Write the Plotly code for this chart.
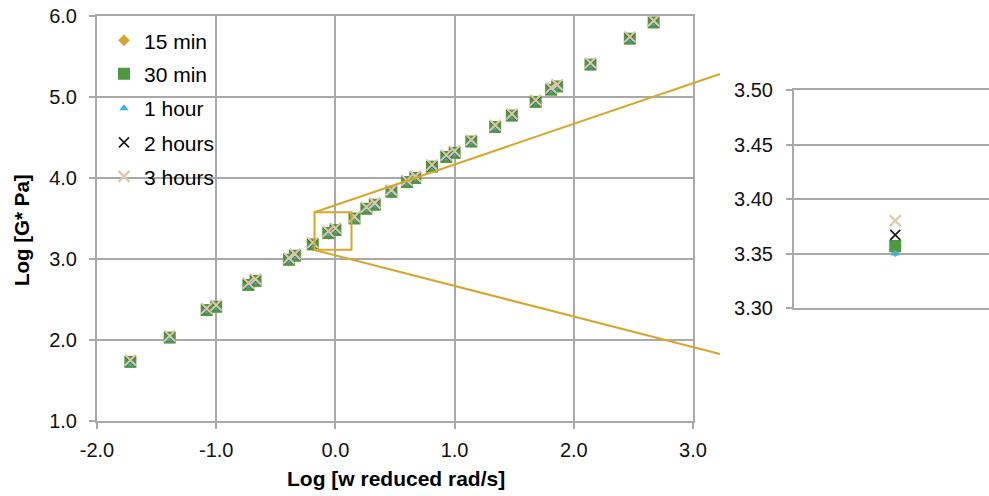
import plotly.graph_objects as go

# ---------------- data ----------------
x_vals = [-1.72, -1.39, -1.08, -1.00, -0.73, -0.67, -0.39, -0.34, -0.19, -0.06, 0.00,
          0.16, 0.26, 0.33, 0.47, 0.60, 0.67, 0.81, 0.93, 1.00, 1.14, 1.34, 1.48,
          1.68, 1.81, 1.86, 2.14, 2.47, 2.67]

g_15min = [1.72, 2.03, 2.36, 2.41, 2.68, 2.72, 2.98, 3.04, 3.17, 3.31, 3.352,
           3.50, 3.62, 3.67, 3.82, 3.95, 4.00, 4.14, 4.25, 4.31, 4.45, 4.63, 4.77,
           4.94, 5.09, 5.13, 5.40, 5.72, 5.92]
g_30min = [1.73, 2.03, 2.37, 2.41, 2.68, 2.73, 2.99, 3.04, 3.18, 3.32, 3.357,
           3.50, 3.62, 3.67, 3.83, 3.95, 4.00, 4.14, 4.26, 4.31, 4.45, 4.63, 4.77,
           4.94, 5.09, 5.13, 5.40, 5.72, 5.92]
g_1hour = [1.71, 2.02, 2.36, 2.40, 2.67, 2.72, 2.98, 3.03, 3.17, 3.31, 3.350,
           3.49, 3.61, 3.66, 3.82, 3.94, 3.99, 4.13, 4.25, 4.30, 4.44, 4.62, 4.76,
           4.93, 5.08, 5.12, 5.39, 5.71, 5.91]
g_2hours = [1.74, 2.04, 2.38, 2.42, 2.69, 2.74, 3.00, 3.05, 3.19, 3.33, 3.367,
            3.51, 3.63, 3.68, 3.84, 3.96, 4.01, 4.15, 4.27, 4.32, 4.46, 4.64, 4.78,
            4.95, 5.10, 5.14, 5.41, 5.73, 5.93]
g_3hours = [1.75, 2.05, 2.39, 2.43, 2.70, 2.75, 3.01, 3.06, 3.20, 3.34, 3.380,
            3.52, 3.64, 3.69, 3.85, 3.97, 4.02, 4.16, 4.28, 4.33, 4.47, 4.65, 4.79,
            4.96, 5.11, 5.15, 5.42, 5.74, 5.94]

series_names = ["15 min", "30 min", "1 hour", "2 hours", "3 hours"]

main_x_ticks = [-2, -1, 0, 1, 2, 3]
main_x_labels = ["-2.0", "-1.0", "0.0", "1.0", "2.0", "3.0"]
main_y_ticks = [1, 2, 3, 4, 5, 6]
main_y_labels = ["1.0", "2.0", "3.0", "4.0", "5.0", "6.0"]
inset_y_ticks = [3.30, 3.35, 3.40, 3.45, 3.50]
inset_y_labels = ["3.30", "3.35", "3.40", "3.45", "3.50"]

# zoom box in data units of the main chart
zoom_x = [-0.175, 0.135]
zoom_y = [3.115, 3.577]

# ---------------- layout helpers ----------------
W, H = 989, 496
def px(x):
    return x / W
def py(y):
    return 1 - y / H

FONT = "Liberation Sans, Arial, Helvetica, sans-serif"
GRID = "#A9A9A9"
GOLD = "#D9A62B"

styles = [
    dict(symbol="diamond", size=9, color="#D6A431"),
    dict(symbol="square", size=12, color="#4E983F"),
    dict(symbol="triangle-up", size=8, color="#2DB6EA"),
    dict(symbol="x-thin", size=10, color="rgba(0,0,0,0)", line=dict(color="#1A1A1A", width=1.7)),
    dict(symbol="x-thin", size=11, color="rgba(0,0,0,0)", line=dict(color="#DCC7A8", width=2.2)),
]
series_vals = [g_15min, g_30min, g_1hour, g_2hours, g_3hours]

fig = go.Figure()
legend_ids = ["legend", "legend2", "legend3", "legend4", "legend5"]
for i, (name, vals, st) in enumerate(zip(series_names, series_vals, styles)):
    fig.add_trace(go.Scatter(x=x_vals, y=vals, mode="markers", name=name,
                             marker=st, legend=legend_ids[i],
                             xaxis="x", yaxis="y"))
for i, (name, vals, st) in enumerate(zip(series_names, series_vals, styles)):
    fig.add_trace(go.Scatter(x=x_vals, y=vals, mode="markers", name=name,
                             marker=st, showlegend=False,
                             xaxis="x2", yaxis="y2"))

legend_centers = [40.7, 74, 108.5, 142.7, 176.7]
legend_layout = {}
for lid, cy in zip(legend_ids, legend_centers):
    legend_layout[lid] = dict(x=px(104), y=py(cy), xanchor="left", yanchor="middle",
                              bgcolor="rgba(0,0,0,0)", borderwidth=0,
                              font=dict(family=FONT, size=21, color="#000"))

tickfont = dict(family=FONT, size=20, color="#111")

fig.update_layout(
    width=W, height=H,
    margin=dict(l=0, r=0, t=0, b=0, pad=0, autoexpand=False),
    paper_bgcolor="white", plot_bgcolor="white",
    font=dict(family=FONT),
    xaxis=dict(domain=[px(97), px(693)], range=[-2, 3], tickmode="array",
               tickvals=main_x_ticks, ticktext=main_x_labels, showgrid=True,
               gridcolor=GRID, gridwidth=2, showline=True, linecolor=GRID,
               linewidth=2, mirror=True, ticks="outside", ticklen=6,
               tickcolor=GRID, tickwidth=2, tickfont=tickfont, zeroline=False,
               anchor="y", ticklabelstandoff=4, automargin=False),
    yaxis=dict(domain=[py(421), py(16)], range=[1, 6], tickmode="array",
               tickvals=main_y_ticks, ticktext=main_y_labels, showgrid=True,
               gridcolor=GRID, gridwidth=2, showline=True, linecolor=GRID,
               linewidth=2, mirror=True, ticks="outside", ticklen=6,
               tickcolor=GRID, tickwidth=2, tickfont=tickfont, zeroline=False,
               anchor="x", ticklabelstandoff=8, automargin=False),
    xaxis2=dict(domain=[px(794), 1.0], range=[-0.027, 0.025], showgrid=False,
                showticklabels=False, showline=True, linecolor=GRID, linewidth=2,
                mirror=True, ticks="", zeroline=False, anchor="y2", automargin=False),
    yaxis2=dict(domain=[py(308), py(90)], range=[3.30, 3.50], tickmode="array",
                tickvals=inset_y_ticks, ticktext=inset_y_labels, showgrid=True,
                gridcolor=GRID, gridwidth=2, showline=True, linecolor=GRID,
                linewidth=2, ticks="outside", ticklen=6, tickcolor=GRID,
                tickwidth=2, tickfont=tickfont, zeroline=False, anchor="x2",
                ticklabelstandoff=9, automargin=False),
    shapes=[
        dict(type="rect", xref="x", yref="y", x0=zoom_x[0], x1=zoom_x[1],
             y0=zoom_y[0], y1=zoom_y[1], line=dict(color=GOLD, width=2)),
        dict(type="line", xref="paper", yref="paper", x0=px(314.5), y0=py(212.3),
             x1=px(720), y1=py(74), line=dict(color=GOLD, width=2)),
        dict(type="line", xref="paper", yref="paper", x0=px(314.5), y0=py(250),
             x1=px(720), y1=py(354), line=dict(color=GOLD, width=2)),
    ],
    annotations=[
        dict(text="<b>Log [w reduced rad/s]</b>", xref="paper", yref="paper",
             x=px(396), y=py(478), xanchor="center", yanchor="middle",
             showarrow=False, font=dict(family=FONT, size=21, color="#000")),
        dict(text="<b>Log [G* Pa]</b>", xref="paper", yref="paper",
             x=px(22), y=py(230), xanchor="center", yanchor="middle",
             textangle=-90, showarrow=False,
             font=dict(family=FONT, size=20.5, color="#000")),
    ],
    **legend_layout,
)

fig.write_html("out.html")
